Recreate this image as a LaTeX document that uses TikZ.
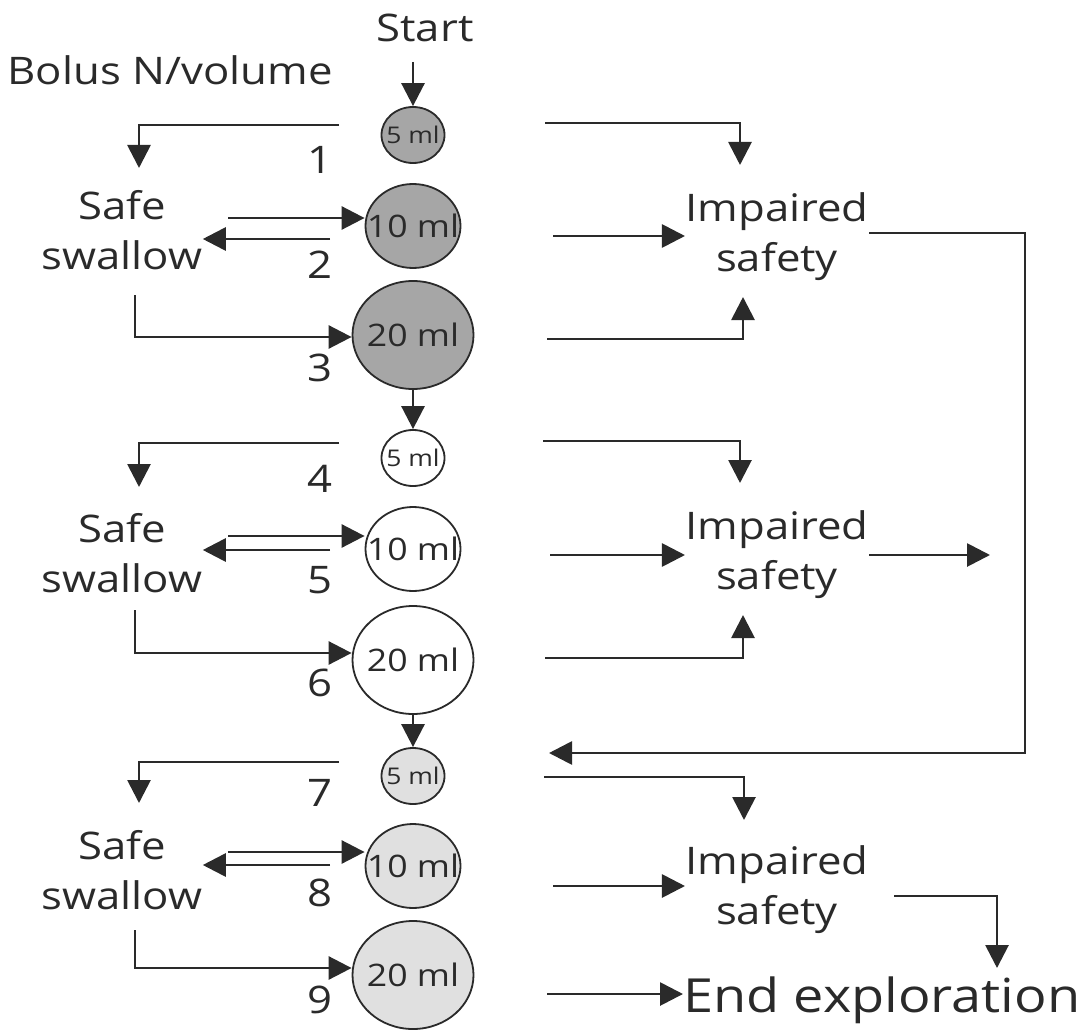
\documentclass[tikz,border=0pt]{standalone}
\usepackage{fontspec}
\setmainfont[FakeStretch=1.15]{Open Sans}
\usetikzlibrary{arrows.meta,shapes.geometric}
\definecolor{darkfill}{HTML}{A6A6A6}
\definecolor{lightfill}{HTML}{E0E0E0}
\definecolor{ink}{HTML}{2A2A2A}
\tikzset{
  arr/.style={draw=ink, line width=1.4pt, -{Triangle[length=11.5pt,width=11.5pt]}},
  txt/.style={text=ink, font=\fontsize{19}{25}\selectfont, align=center, inner sep=0pt},
  num/.style={text=ink, font=\fontsize{19}{24}\selectfont, inner sep=0pt},
  bolus/.style={ellipse, draw=ink, line width=0.9pt, inner sep=0pt},
  small/.style={bolus, minimum width=31.5pt, minimum height=28pt,
    label={[text=ink, inner sep=0pt, font=\fontsize{11.5}{13}\selectfont]center:#1}},
  mid/.style={bolus, minimum width=47.5pt, minimum height=42pt,
    label={[text=ink, inner sep=0pt, font=\fontsize{15.5}{18}\selectfont]center:#1}},
  big/.style={bolus, minimum width=60.5pt, minimum height=54pt,
    label={[text=ink, inner sep=0pt, font=\fontsize{15.5}{18}\selectfont]center:#1}},
}
\begin{document}
\begin{tikzpicture}[x=0.5pt,y=-0.5pt]
\useasboundingbox (0,0) rectangle (1091,1032);
% headers
\node[txt] (start) at (425,28) {Start};
\node[txt] (bolus) at (170,70) {Bolus N/volume};
% bolus circles
\node[small=5 ml, fill=darkfill] (a1) at (413,135) {};
\node[mid=10 ml, fill=darkfill] (a2) at (413,226) {};
\node[big=20 ml, fill=darkfill] (a3) at (413,335) {};
\node[small=5 ml, fill=white] (b1) at (413,458) {};
\node[mid=10 ml, fill=white] (b2) at (413,549) {};
\node[big=20 ml, fill=white] (b3) at (413,660) {};
\node[small=5 ml, fill=lightfill] (c1) at (413,776) {};
\node[mid=10 ml, fill=lightfill] (c2) at (413,866) {};
\node[big=20 ml, fill=lightfill] (c3) at (413,975) {};
% numbers
\node[num] (n1) at (320,160) {1};
\node[num] (n2) at (320,265) {2};
\node[num] (n3) at (320,368) {3};
\node[num] (n4) at (320,479) {4};
\node[num] (n5) at (320,580) {5};
\node[num] (n6) at (320,683) {6};
\node[num] (n7) at (320,793) {7};
\node[num] (n8) at (320,893) {8};
\node[num] (n9) at (320,1000) {9};
% safe swallow
\node[txt] (s1) at (122,230) {Safe\\swallow};
\node[txt] (s2) at (122,553) {Safe\\swallow};
\node[txt] (s3) at (122,870) {Safe\\swallow};
% impaired safety
\node[txt] (i1) at (777,237) {Impaired\\safety};
\node[txt] (i2) at (777,555) {Impaired\\safety};
\node[txt] (i3) at (777,890) {Impaired\\safety};
\node[txt, anchor=west, font=\fontsize{23.5}{30}\selectfont] (end) at (683,1000) {End exploration};
% start arrow
\draw[arr] (a1.north |- 0,62) -- (a1.north);
% ---------- group 1
\draw[arr] (339,125) -| (139,168);
\draw[arr] (545,123) -| (740,165);
\draw[arr] (228,218) -- (a2.west |- 0,218);
\draw[arr] (330,239) -- (s1.east |- 0,239);
\draw[arr] (135,295) |- (a3.west |- 0,337);
\draw[arr] (553,236) -- (i1.west |- 0,236);
\draw[arr] (547,339) -| (743,297);
\draw[arr] (a3.south) -- (b1.north);
% ---------- group 2
\draw[arr] (339,443) -| (139,487);
\draw[arr] (543,441) -| (740,483);
\draw[arr] (228,536) -- (b2.west |- 0,536);
\draw[arr] (330,550) -- (s2.east |- 0,550);
\draw[arr] (135,610) |- (b3.west |- 0,653);
\draw[arr] (550,555) -- (i2.west |- 0,555);
\draw[arr] (545,658) -| (743,615);
\draw[arr] (i2.east |- 0,555) -- (990,555);
\draw[arr] (b3.south) -- (c1.north);
% loop from group 1 impaired to group 3
\draw[arr] (i1.east |- 0,233) -| (1025,753) -- (549,753);
% ---------- group 3
\draw[arr] (339,762) -| (139,803);
\draw[arr] (544,777) -| (744,820);
\draw[arr] (228,852) -- (c2.west |- 0,852);
\draw[arr] (330,865) -- (s3.east |- 0,865);
\draw[arr] (135,930) |- (c3.west |- 0,968);
\draw[arr] (553,886) -- (i3.west |- 0,886);
\draw[arr] (894,896) -| (997,968);
\draw[arr] (547,994) -- (end.west |- 0,994);
\end{tikzpicture}
\end{document}
